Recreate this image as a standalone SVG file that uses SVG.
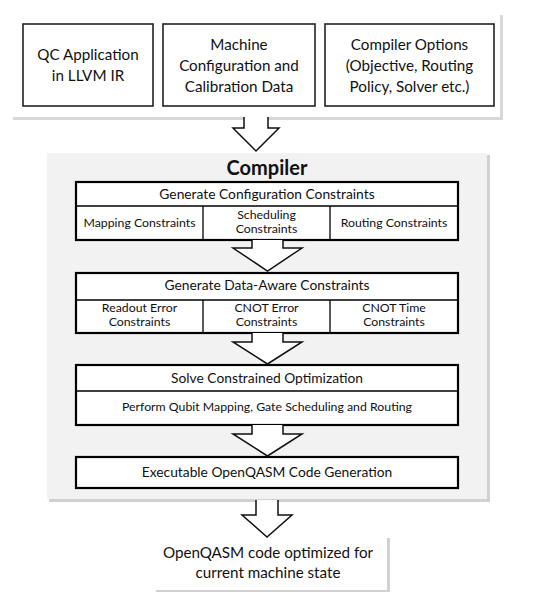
<svg xmlns="http://www.w3.org/2000/svg" width="545" height="609" viewBox="0 0 545 609">
<style>
text{font-family:Lato,"Open Sans","Liberation Sans",sans-serif;fill:#111;text-anchor:middle}
.in{fill:#fff;stroke:#222;stroke-width:1.6}
.cb{fill:#fff;stroke:#000;stroke-width:2.2}
.ln{stroke:#000;stroke-width:1.3;fill:none}
.ar{fill:#fff;stroke:#111;stroke-width:1.5;stroke-linejoin:miter}
.t16{font-size:15.2px}
.h{font-size:13.8px}
.s{font-size:12.3px}
.shadow{fill:#bdbdbd}
</style>
<rect width="545" height="609" fill="#fff"/>
<g id="inputs-panel">
<rect class="shadow" x="13" y="15" width="490" height="105" opacity="0.6"/>
<rect x="10" y="12" width="490" height="105" fill="#fff"/>
</g>
<g id="qc-app">
<rect class="in" x="23" y="24" width="130" height="82"/>
<text class="t16" x="88" y="60">QC Application</text>
<text class="t16" x="88" y="81">in LLVM IR</text>
</g>
<g id="machine-config">
<rect class="in" x="163" y="24" width="152" height="82"/>
<text class="t16" x="239" y="50">Machine</text>
<text class="t16" x="239" y="71">Configuration and</text>
<text class="t16" x="239" y="92">Calibration Data</text>
</g>
<g id="compiler-options">
<rect class="in" x="325" y="24" width="169" height="82"/>
<text class="t16" x="409.5" y="50">Compiler Options</text>
<text class="t16" x="409.5" y="71">(Objective, Routing</text>
<text class="t16" x="409.5" y="92">Policy, Solver etc.)</text>
</g>
<g id="compiler">
<rect class="shadow" x="49" y="155" width="441" height="347" opacity="0.7"/>
<rect x="47" y="153" width="440" height="346" fill="#f2f2f2"/>
<text x="267" y="175" style="font-size:20px;font-weight:bold">Compiler</text>
</g>
<g id="config-constraints">
<rect class="cb" x="76" y="182" width="382" height="58"/>
<line class="ln" x1="76" y1="206" x2="458" y2="206"/>
<line class="ln" x1="203" y1="206" x2="203" y2="240"/>
<line class="ln" x1="330" y1="206" x2="330" y2="240"/>
<text class="h" x="267" y="199">Generate Configuration Constraints</text>
<text class="s" x="139.5" y="227">Mapping Constraints</text>
<text class="s" x="266.5" y="219">Scheduling</text>
<text class="s" x="266.5" y="233">Constraints</text>
<text class="s" x="394" y="227">Routing Constraints</text>
</g>
<g id="data-aware-constraints">
<rect class="cb" x="76" y="273" width="382" height="60"/>
<line class="ln" x1="76" y1="300" x2="458" y2="300"/>
<line class="ln" x1="203" y1="300" x2="203" y2="333"/>
<line class="ln" x1="330" y1="300" x2="330" y2="333"/>
<text class="h" x="267" y="290">Generate Data-Aware Constraints</text>
<text class="s" x="139.5" y="312">Readout Error</text>
<text class="s" x="139.5" y="326">Constraints</text>
<text class="s" x="266.5" y="312">CNOT Error</text>
<text class="s" x="266.5" y="326">Constraints</text>
<text class="s" x="394" y="312">CNOT Time</text>
<text class="s" x="394" y="326">Constraints</text>
</g>
<g id="solve">
<rect class="cb" x="76" y="365" width="382" height="60"/>
<line class="ln" x1="76" y1="391" x2="458" y2="391"/>
<text class="h" x="267" y="383">Solve Constrained Optimization</text>
<text class="s" x="267" y="411">Perform Qubit Mapping, Gate Scheduling and Routing</text>
</g>
<g id="codegen">
<rect class="cb" x="76" y="457" width="382" height="31"/>
<text class="h" x="267" y="477">Executable OpenQASM Code Generation</text>
</g>
<g id="output">
<rect class="shadow" x="156" y="538" width="234" height="54" opacity="0.7"/>
<rect x="153" y="535" width="234" height="55" fill="#fff"/>
<text class="t16" x="268" y="558">OpenQASM code optimized for</text>
<text class="t16" x="268" y="578">current machine state</text>
</g>
<g id="connectors">
<path class="ar" d="M244,117 V128 H233 L256,151 L279,128 H268 V117"/>
<path class="ar" d="M252,240 V248 H233 L267.5,271 L302,248 H283 V240"/>
<path class="ar" d="M252,333 V342 H233 L267.5,364 L302,342 H283 V333"/>
<path class="ar" d="M252,425 V434 H233 L267.5,456 L302,434 H283 V425"/>
<path class="ar" d="M256,500 V515 H242 L267,537 L292,515 H278 V500"/>
</g>
</svg>
